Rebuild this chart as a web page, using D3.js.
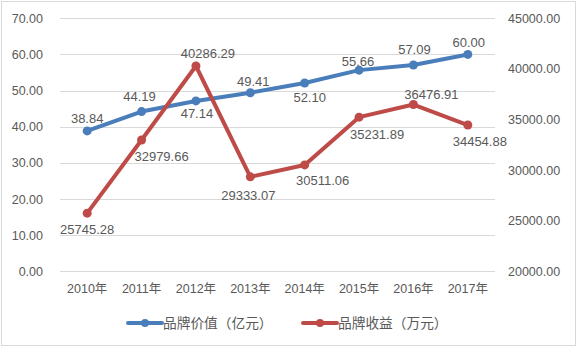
<!DOCTYPE html>
<html>
<head>
<meta charset="utf-8">
<script src="https://cdn.jsdelivr.net/npm/d3@7"></script>
<style>
  body { margin: 0; background: #fff; }
  text { font-family: "Liberation Sans", "Noto Sans CJK SC", sans-serif; fill: #595959; }
</style>
</head>
<body>
<div id="chart"></div>
<script>
// datos
const years = ["2010年", "2011年", "2012年", "2013年", "2014年", "2015年", "2016年", "2017年"];
const brandValue = [38.84, 44.19, 47.14, 49.41, 52.10, 55.66, 57.09, 60.00];
const brandIncome = [25745.28, 32979.66, 40286.29, 29333.07, 30511.06, 35231.89, 36476.91, 34454.88];
const leftTicks = [0, 10, 20, 30, 40, 50, 60, 70];
const rightTicks = [20000, 25000, 30000, 35000, 40000, 45000];
const seriesNames = ["品牌价值（亿元）", "品牌收益（万元）"];

// posicion de las etiquetas (dx, dy respecto al punto)
const blueLabelOff = [[0, -12], [-2, -15], [1, 13], [3, -11], [5, 15], [-1, -9], [1, -15], [1, -12]];
const redLabelOff = [[0, 16], [20, 17], [12, -13], [-2, 19], [18, 16], [18, 17], [18, -10], [12, 16]];

const W = 581, H = 353;
const M = { LEFT: 60, RIGHT: 86, TOP: 18.3, BOTTOM: 81.7 };
const BLUE = "#4a7ebb", RED = "#be4b48";

const svg = d3.select("#chart").append("svg")
  .attr("width", W).attr("height", H);

// borde
svg.append("rect")
  .attr("x", 1.5).attr("y", 1.5)
  .attr("width", 574).attr("height", 344)
  .attr("fill", "#fff")
  .attr("stroke", "#d9d9d9");

const x = d3.scaleBand()
  .domain(years)
  .range([M.LEFT, W - M.RIGHT]);

const yL = d3.scaleLinear().domain([0, 70]).range([H - M.BOTTOM, M.TOP]);
const yR = d3.scaleLinear().domain([20000, 45000]).range([H - M.BOTTOM, M.TOP]);

// gridlines
svg.append("g")
  .selectAll("line")
  .data(leftTicks)
  .join("line")
  .attr("x1", M.LEFT).attr("x2", W - M.RIGHT)
  .attr("y1", d => Math.round(yL(d)) + 0.5)
  .attr("y2", d => Math.round(yL(d)) + 0.5)
  .attr("stroke", "#d9d9d9")
  .attr("stroke-width", 1);

// ejes
const axL = svg.append("g")
  .attr("transform", `translate(${M.LEFT}, 0)`)
  .call(d3.axisLeft(yL).tickValues(leftTicks).tickFormat(d3.format(".2f")).tickSize(0).tickPadding(17));
axL.select(".domain").remove();
axL.selectAll("text").style("font-size", "12.5px").attr("fill", "#595959");

const axR = svg.append("g")
  .attr("transform", `translate(${W - M.RIGHT}, 0)`)
  .call(d3.axisRight(yR).tickValues(rightTicks).tickFormat(d3.format(".2f")).tickSize(0).tickPadding(13));
axR.select(".domain").remove();
axR.selectAll("text").style("font-size", "12.5px").attr("fill", "#595959");

const axB = svg.append("g")
  .attr("transform", `translate(0, ${H - M.BOTTOM})`)
  .call(d3.axisBottom(x).tickSize(0).tickPadding(13));
axB.select(".domain").remove();
axB.selectAll("text").style("font-size", "12.5px").attr("fill", "#595959");

const cx = (d, i) => x(years[i]) + x.bandwidth() / 2;

function drawSeries(values, yScale, color, offs, fmt) {
  const line = d3.line()
    .x((d, i) => cx(d, i))
    .y(d => yScale(d));

  svg.append("path")
    .datum(values)
    .attr("d", line)
    .attr("fill", "none")
    .attr("stroke", color)
    .attr("stroke-width", 4)
    .attr("stroke-linejoin", "round")
    .attr("stroke-linecap", "round");

  svg.append("g").selectAll("circle")
    .data(values)
    .join("circle")
    .attr("cx", (d, i) => cx(d, i))
    .attr("cy", d => yScale(d))
    .attr("r", 4.5)
    .attr("fill", color);

  svg.append("g").selectAll("text")
    .data(values)
    .join("text")
    .attr("x", (d, i) => cx(d, i) + offs[i][0])
    .attr("y", (d, i) => yScale(d) + offs[i][1])
    .attr("text-anchor", "middle")
    .attr("dominant-baseline", "central")
    .style("font-size", "13px")
    .attr("fill", "#404040")
    .text(d => d3.format(".2f")(d));
}

drawSeries(brandValue, yL, BLUE, blueLabelOff);
drawSeries(brandIncome, yR, RED, redLabelOff);

// leyenda
const legend = svg.append("g");
const legX = [128, 303];
[BLUE, RED].forEach((c, i) => {
  const g = legend.append("g").attr("transform", `translate(${legX[i]}, 323)`);
  g.append("line")
    .attr("x1", 0).attr("x2", 34)
    .attr("stroke", c).attr("stroke-width", 4)
    .attr("stroke-linecap", "round");
  g.append("circle").attr("cx", 17).attr("r", 4).attr("fill", c);
  g.append("text")
    .attr("x", 35).attr("y", 0)
    .attr("dominant-baseline", "central")
    .style("font-size", "13.7px")
    .attr("fill", "#595959")
    .text(seriesNames[i]);
});
</script>
</body>
</html>
